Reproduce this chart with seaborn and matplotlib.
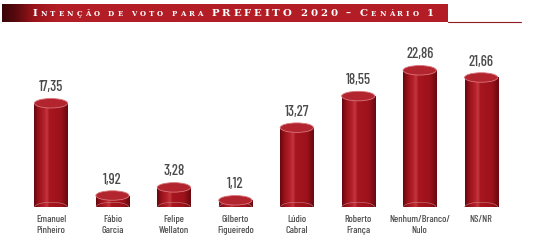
import numpy as np
import pandas as pd
import seaborn as sns
import matplotlib
matplotlib.use("Agg")
import matplotlib.pyplot as plt
from matplotlib.patches import Ellipse, Rectangle
from matplotlib.offsetbox import TextArea, HPacker, AnnotationBbox
from matplotlib import font_manager

categories = ["Emanuel\nPinheiro", "Fábio\nGarcia", "Felipe\nWellaton", "Gilberto\nFigueiredo",
              "Lúdio\nCabral", "Roberto\nFrança", "Nenhum/Branco/\nNulo", "NS/NR"]
values = [17.35, 1.92, 3.28, 1.12, 13.27, 18.55, 22.86, 21.66]
value_labels = ["17,35", "1,92", "3,28", "1,12", "13,27", "18,55", "22,86", "21,66"]
# (word, style): "caps" = full capitals, "init" = large initial + small caps, "small" = all small caps
title_parts = [("Intenção", "init"), ("de", "small"), ("voto", "small"), ("para", "small"),
               ("PREFEITO", "caps"), ("2020", "caps"), ("–", "caps"), ("Cenário", "init"), ("1", "caps")]

names = {f.name for f in font_manager.fontManager.ttflist}
cond = next((n for n in ["Barlow Condensed", "Roboto Condensed", "Asap Condensed", "Liberation Sans Narrow"]
             if n in names), "DejaVu Sans")

sns.set_theme(style="white")
plt.rcParams["font.family"] = [cond, "DejaVu Sans"]

W, H = 534, 246
fig = plt.figure(figsize=(W / 100, H / 100), dpi=100)
fig.patch.set_facecolor("white")

ax = fig.add_axes([0, 1 - 207 / H, 1, (207 - 30) / H])
df = pd.DataFrame({"cat": categories, "val": values})
red = "#a3121c"
sns.barplot(data=df, x="cat", y="val", color=red, saturation=1, width=0.54, ax=ax)
ax.set_xlim(-0.83, 7.86)
ymax = 29.6
ax.set_ylim(0, ymax)
ax.axis("off")

px_per_unit = (207 - 30) / ymax
cap_h = 9.5 / px_per_unit
grad = np.linspace(0, 1, 64)[None, :]
cmap = matplotlib.colors.LinearSegmentedColormap.from_list(
    "cyl", [(0, "#66080e"), (0.12, "#98111a"), (0.3, "#b5222b"), (0.38, "#c43840"),
            (0.45, "#a8161f"), (0.8, "#9c121b"), (1, "#6a090f")])
for p, v, lab, cat in zip(ax.patches, values, value_labels, categories):
    x0, w, h = p.get_x(), p.get_width(), p.get_height()
    p.set_visible(False)
    im = ax.imshow(grad, extent=[x0, x0 + w, 0, h], aspect="auto", cmap=cmap, zorder=2)
    body = Rectangle((x0, 0), w, h, transform=ax.transData, facecolor="none", edgecolor="none")
    ax.add_patch(body)
    im.set_clip_path(body)
    ax.add_patch(Ellipse((x0 + w / 2, 0), w, cap_h, facecolor="#8a0e16", edgecolor="none", zorder=1.9))
    ax.add_patch(Ellipse((x0 + w / 2, 0), w * 0.98, cap_h, facecolor="none", edgecolor="#e0a8ac",
                         lw=0.4, zorder=2.1, alpha=0.7))
    ax.add_patch(Ellipse((x0 + w / 2, h), w, cap_h, facecolor="#b2242e", edgecolor="#d9767c",
                         lw=0.6, zorder=3))
    ax.text(x0 + w / 2, h + cap_h / 2 + 0.7, lab, ha="center", va="bottom",
            fontsize=10.5, color="#4a4a4a", fontweight="medium", zorder=4)
    ax.text(x0 + w / 2, -cap_h / 2 - 0.6, cat, ha="center", va="top",
            fontsize=7.3, color="#505050", fontweight="medium", linespacing=1.3, zorder=4, clip_on=False)

# Banner
bx0, bx1, by0, by1 = 2 / W, 448 / W, 1 - 22 / H, 1 - 4 / H
bax = fig.add_axes([bx0, by0, bx1 - bx0, by1 - by0])
bcmap = matplotlib.colors.LinearSegmentedColormap.from_list(
    "ban", [(0, "#3a0608"), (0.03, "#5a0a0e"), (0.07, "#9a141b"), (0.12, "#b31d25"), (1, "#b31d25")])
bax.imshow(np.linspace(0, 1, 256)[None, :], aspect="auto", cmap=bcmap, extent=[0, 1, 0, 1])
bax.set_xlim(0, 1)
bax.set_ylim(0, 1)
bax.axis("off")
fig.add_artist(plt.Line2D([448 / W, 521 / W], [1 - 22 / H, 1 - 22 / H], color="#8f1a20", lw=0.8))

boxes = []
for word, style in title_parts:
    chars = []
    for i, ch in enumerate(word):
        big = style == "caps" or (style == "init" and i == 0)
        size = 7.4 if big else 5.0
        chars.append(TextArea(ch.upper(), textprops=dict(color="white", fontsize=size, fontweight="bold",
                                                         family=["DejaVu Serif"])))
    boxes.append(HPacker(children=chars, align="baseline", pad=0, sep=2.1 if style == "caps" else 2.2))
title_box = HPacker(children=boxes, align="baseline", pad=0, sep=6.2)
ab = AnnotationBbox(title_box, (33 / W, 1 - 13.5 / H), xycoords="figure fraction",
                    box_alignment=(0, 0.5), frameon=False)
fig.add_artist(ab)

fig.savefig("out.png", dpi=100, facecolor="white")
